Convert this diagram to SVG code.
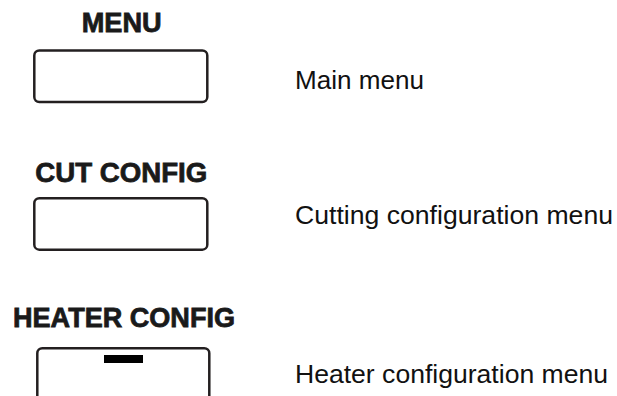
<svg xmlns="http://www.w3.org/2000/svg" width="617" height="396" viewBox="0 0 617 396">
<style>
.title{font-family:"Liberation Sans",Arial,sans-serif;font-weight:bold;font-size:28px;fill:#1a1a1a;stroke:#1a1a1a;stroke-width:0.8;text-anchor:middle}
.desc{font-family:"Liberation Sans",Arial,sans-serif;font-size:25.5px;fill:#111}
.box{fill:#fff;stroke:#231f20;stroke-width:2.5}
</style>
<rect width="617" height="396" fill="#fff"/>
<g id="menu">
<text class="title" x="121.7" y="32.3" textLength="80" lengthAdjust="spacingAndGlyphs">MENU</text>
<rect class="box" x="34.3" y="50.5" width="173" height="51.5" rx="5"/>
<text class="desc" x="295" y="89" textLength="129" lengthAdjust="spacingAndGlyphs">Main menu</text>
</g>
<g id="cut-config">
<text class="title" x="121.3" y="182.3" textLength="172" lengthAdjust="spacingAndGlyphs">CUT CONFIG</text>
<rect class="box" x="34.3" y="198.2" width="173" height="51.5" rx="5"/>
<text class="desc" x="295" y="224.3" textLength="318" lengthAdjust="spacingAndGlyphs">Cutting configuration menu</text>
</g>
<g id="heater-config">
<text class="title" x="124" y="327.3" textLength="222" lengthAdjust="spacingAndGlyphs">HEATER CONFIG</text>
<rect class="box" x="37.3" y="348.2" width="172" height="70" rx="5"/>
<rect x="104" y="355" width="39" height="8" fill="#000"/>
<text class="desc" x="295" y="383.3" textLength="313" lengthAdjust="spacingAndGlyphs">Heater configuration menu</text>
</g>
<g id="connectors"/>
</svg>
